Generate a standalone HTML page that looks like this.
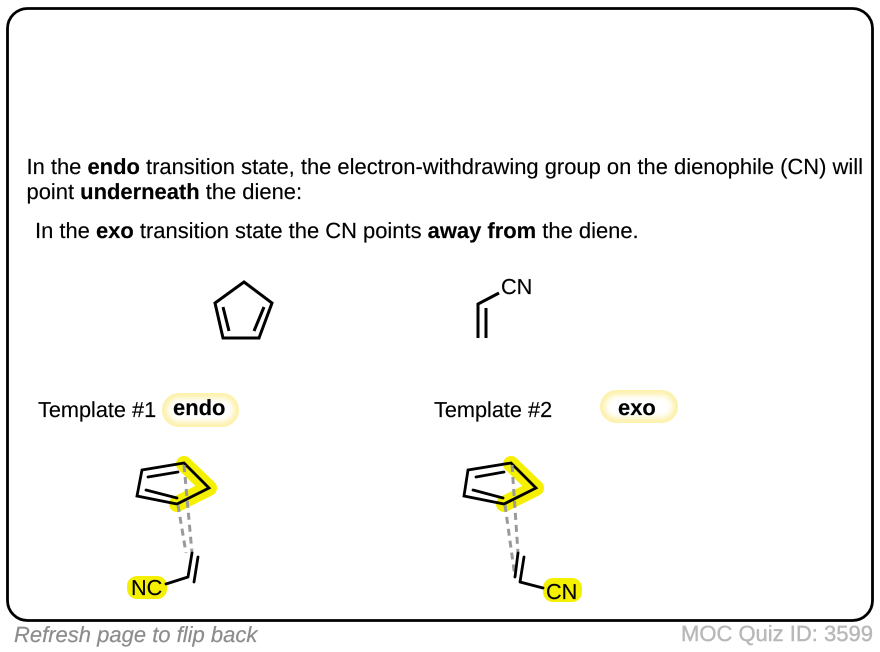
<!DOCTYPE html>
<html><head><meta charset="utf-8"><style>
html,body{margin:0;padding:0;background:#fff;width:880px;height:652px;overflow:hidden}
svg{display:block;position:absolute;left:0;top:0}
text{font-family:"Liberation Sans",Arial,sans-serif;fill:#000;text-rendering:geometricPrecision}
.t{font-size:21.95px;stroke:#000;stroke-width:.15px}
.u{font-size:21.7px;stroke:#000;stroke-width:.15px}
.b{font-weight:bold}
</style></head><body>
<svg width="880" height="652" viewBox="0 0 880 652" xmlns="http://www.w3.org/2000/svg">
<defs>
<filter id="bl" x="-20%" y="-50%" width="140%" height="200%"><feGaussianBlur stdDeviation="3"/></filter>
<filter id="s" x="-5%" y="-5%" width="110%" height="110%"><feGaussianBlur stdDeviation="0.35"/></filter>
</defs>
<rect x="7.5" y="8.5" width="865" height="612" rx="20" ry="20" fill="#fff" stroke="#000" stroke-width="2.8"/>

<text class="t" x="26.5" y="174">In the <tspan class="b">endo</tspan> transition state, the electron-withdrawing group on the dienophile (CN) will</text>
<text class="t" x="26.5" y="199">point <tspan class="b">underneath</tspan> the diene:</text>
<text class="t" x="35" y="238">In the <tspan class="b">exo</tspan> transition state the CN points <tspan class="b">away from</tspan> the diene.</text>

<g fill="none" stroke="#000" stroke-width="3" stroke-linejoin="miter" stroke-linecap="butt" filter="url(#s)">
<path d="M244 282L272 303L259 338H223L215 303Z"/>
<path d="M223 307L229 331M264 307L254 331"/>
<path d="M499 293L478 304V338M486 308V338"/>
</g>
<text class="u" x="501" y="294">CN</text>

<text class="u" x="38" y="417">Template #1</text>
<text class="u" x="434" y="417">Template #2</text>
<rect x="162" y="393" width="77" height="34" rx="17" fill="#fdf0a8"/>
<rect x="167" y="398" width="67" height="24" rx="12" fill="#fff" filter="url(#bl)"/>
<rect x="600" y="390" width="78" height="33" rx="16.5" fill="#fdf0a8"/>
<rect x="605" y="395" width="68" height="23" rx="11.5" fill="#fff" filter="url(#bl)"/>
<text class="t b" x="173" y="415">endo</text>
<text class="t b" x="618" y="415">exo</text>

<!-- Template 1 -->
<g fill="none" stroke-linecap="round" stroke-linejoin="round">
<path d="M184 464L209 488L177 504" stroke="#f5f000" stroke-width="16"/>
<rect x="127" y="576" width="40" height="23" rx="10" fill="#f5f000" stroke="none"/>
<g filter="url(#s)">
<path d="M184 463L142 470L137 496L177 504L209 488Z" stroke="#000" stroke-width="2.8" stroke-linejoin="miter"/>
<path d="M148 477L178 472M146 490L177 498" stroke="#000" stroke-width="2.8"/>
<path d="M184 465L192 553M178 505L186 553" stroke="#9a9a9a" stroke-width="3" stroke-dasharray="7 5" stroke-linecap="butt"/>
<path d="M192 553L188 577L166 584M198 557L194 582" stroke="#000" stroke-width="2.8"/>
</g>
</g>
<text class="u" x="131" y="595">NC</text>

<!-- Template 2 -->
<g fill="none" stroke-linecap="round" stroke-linejoin="round">
<path d="M511 464L536 488L504 504" stroke="#f5f000" stroke-width="16"/>
<rect x="543" y="578" width="39" height="24" rx="10" fill="#f5f000" stroke="none"/>
<g filter="url(#s)">
<path d="M511 463L468 470L464 496L504 504L536 488Z" stroke="#000" stroke-width="2.8" stroke-linejoin="miter"/>
<path d="M476 477L504 472M473 490L503 498" stroke="#000" stroke-width="2.8"/>
<path d="M512 465L518 553M505 505L515 577" stroke="#9a9a9a" stroke-width="3" stroke-dasharray="7 5" stroke-linecap="butt"/>
<path d="M518 553L515 577M524 557L520 582L543 588" stroke="#000" stroke-width="2.8"/>
</g>
</g>
<text class="u" x="546" y="599">CN</text>

<text x="14" y="642" font-size="22" font-style="italic" style="fill:#8c8c8c;stroke:#8c8c8c;stroke-width:.2px">Refresh page to flip back</text>
<text x="681" y="641" font-size="22" style="fill:#b8b8b8;stroke:#b8b8b8;stroke-width:.4px">MOC Quiz ID: 3599</text>
</svg>
</body></html>
